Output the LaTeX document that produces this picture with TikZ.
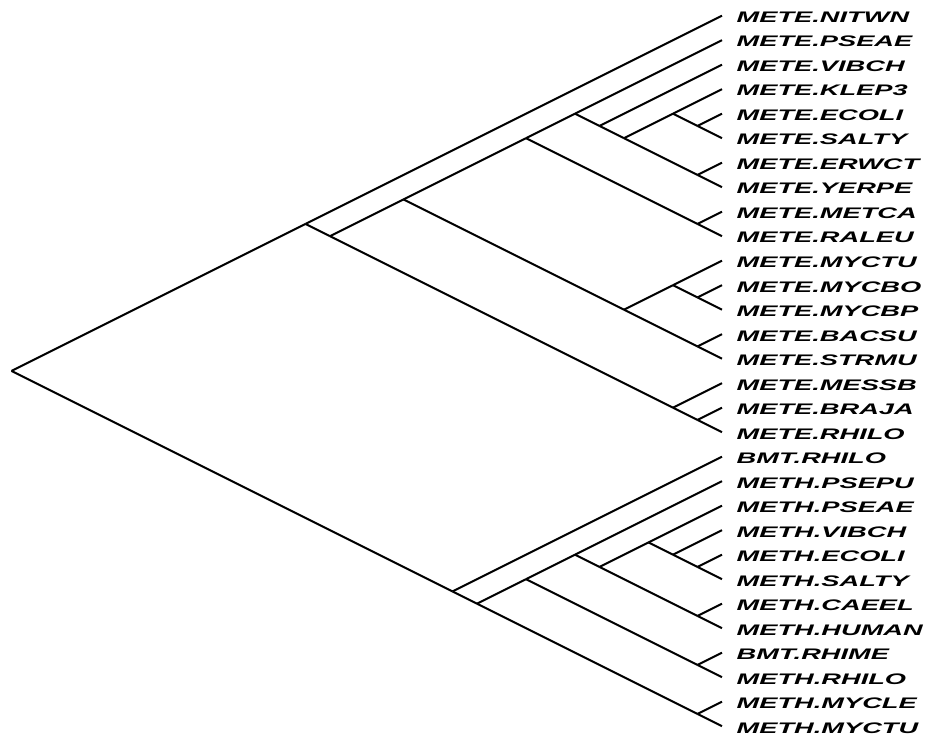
\documentclass[tikz,border=0pt]{standalone}
\usepackage{fontspec}
\usepackage{graphicx}
\setmainfont{Liberation Sans}
\usetikzlibrary{calc}
\tikzset{
  branch/.style={line width=2pt, line join=round},
  lbl/.style={anchor=base west, inner sep=0pt, font=\fontsize{15.3}{15.3}\selectfont\bfseries\itshape}
}
\newcommand\clade[3]{\coordinate (#1) at ({722-24.5*(#3-#2)},{15.7+12.25*(#2+#3)});}
\newcommand\sx[1]{\scalebox{1.78}[1]{#1}}
\begin{document}
\begin{tikzpicture}[x=1pt,y=-1pt]
\useasboundingbox (0,0) rectangle (925,735);
% leaves
\foreach \i in {0,...,29} {\coordinate (l\i) at (722,{15.7+24.5*\i});}
% internal nodes
\clade{r}{0}{29}
\clade{a}{0}{17}
\clade{b}{1}{17}
\clade{c}{1}{14}
\clade{d}{1}{9}
\clade{e}{1}{7}
\clade{f}{2}{7}
\clade{g}{3}{7}
\clade{h}{3}{5}
\clade{i}{4}{5}
\clade{j}{6}{7}
\clade{k}{8}{9}
\clade{m}{10}{14}
\clade{n}{10}{12}
\clade{o}{11}{12}
\clade{p}{13}{14}
\clade{q}{15}{17}
\clade{s}{16}{17}
\clade{B}{18}{29}
\clade{C}{19}{29}
\clade{D}{19}{27}
\clade{E}{19}{25}
\clade{F}{20}{25}
\clade{G}{20}{23}
\clade{H}{21}{23}
\clade{HH}{22}{23}
\clade{I}{24}{25}
\clade{J}{26}{27}
\clade{K}{28}{29}
% branches
\foreach \p/\c in {r/a, r/B,
  a/l0, a/b, b/c, b/q, c/d, c/m, d/e, d/k, e/l1, e/f, f/l2, f/g, g/h, g/j,
  h/l3, h/i, i/l4, i/l5, j/l6, j/l7, k/l8, k/l9,
  m/n, m/p, n/l10, n/o, o/l11, o/l12, p/l13, p/l14,
  q/l15, q/s, s/l16, s/l17,
  B/l18, B/C, C/D, C/K, D/E, D/J, E/l19, E/F, F/G, F/I, G/l20, G/H,
  H/l21, H/HH, HH/l22, HH/l23, I/l24, I/l25, J/l26, J/l27, K/l28, K/l29}
  {\draw[branch] (\p) -- (\c);}
% labels
\foreach \i/\t in {0/METE.NITWN, 1/METE.PSEAE, 2/METE.VIBCH, 3/METE.KLEP3,
  4/METE.ECOLI, 5/METE.SALTY, 6/METE.ERWCT, 7/METE.YERPE, 8/METE.METCA,
  9/METE.RALEU, 10/METE.MYCTU, 11/METE.MYCBO, 12/METE.MYCBP, 13/METE.BACSU,
  14/METE.STRMU, 15/METE.MESSB, 16/METE.BRAJA, 17/METE.RHILO, 18/BMT.RHILO,
  19/METH.PSEPU, 20/METH.PSEAE, 21/METH.VIBCH, 22/METH.ECOLI, 23/METH.SALTY,
  24/METH.CAEEL, 25/METH.HUMAN, 26/BMT.RHIME, 27/METH.RHILO, 28/METH.MYCLE,
  29/METH.MYCTU}
  {\node[lbl] (t\i) at ($(l\i)+(14.5,6.8)$) {\sx{\t}};}
\end{tikzpicture}
\end{document}
